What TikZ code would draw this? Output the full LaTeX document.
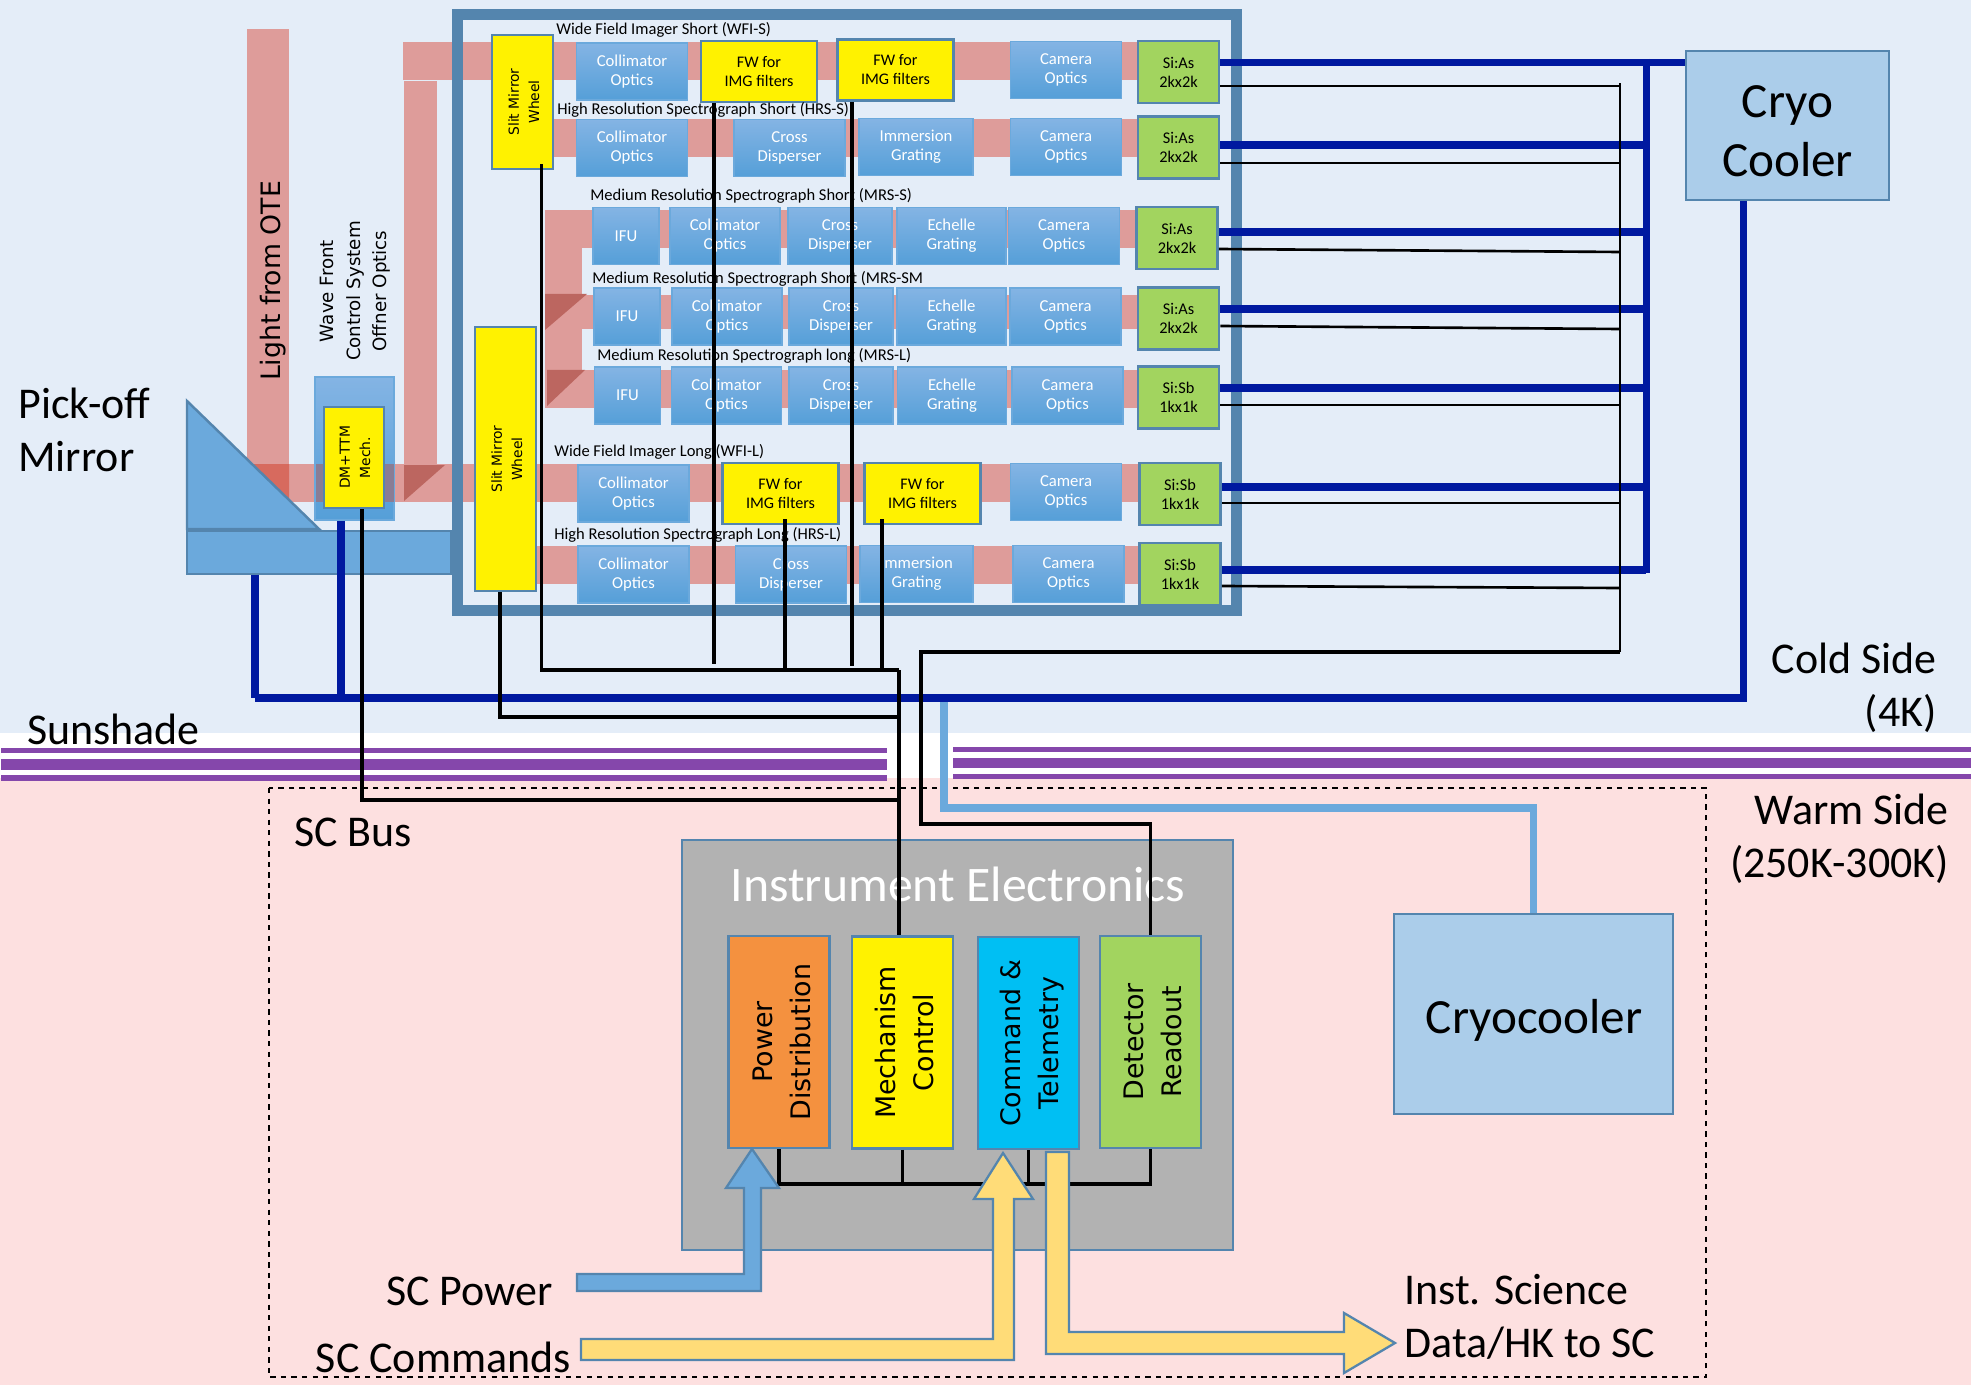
\documentclass[tikz,border=0pt]{standalone}
\usepackage{fontspec}
\setmainfont{Carlito}
\newfontfamily\widefont{DejaVu Sans}
\usetikzlibrary{positioning}
\definecolor{coldbg}{HTML}{E4EDF8}
\definecolor{warmbg}{HTML}{FDE0E0}
\definecolor{beamred}{HTML}{DE9C9A}
\definecolor{beamdark}{HTML}{BC6660}
\definecolor{beamhot}{HTML}{D76A5E}
\definecolor{beammix}{HTML}{8A7D95}
\definecolor{edgeblue}{HTML}{5485AE}
\definecolor{optictop}{HTML}{84B4E4}
\definecolor{opticbot}{HTML}{559FD8}
\definecolor{coldblue}{HTML}{0019A0}
\definecolor{lineblue}{HTML}{6BA9DC}
\definecolor{shadepurple}{HTML}{8547AB}
\definecolor{coolerblue}{HTML}{ABCDEA}
\definecolor{armyellow}{HTML}{FFDC78}
\definecolor{detgreen}{HTML}{A2D45F}
\definecolor{cmdcyan}{HTML}{00BFF3}
\definecolor{pwrorange}{HTML}{F4913F}
\definecolor{elecgray}{HTML}{B2B2B2}
\newcommand{\turned}[2][0cm]{\hspace*{#1}\rotatebox{90}{\begin{tabular}{@{}c@{}}#2\end{tabular}}}
\tikzset{
  box/.style={draw=edgeblue, inner sep=0pt, align=center},
  optic/.style={box, draw=lineblue, line width=1pt, top color=optictop, bottom color=opticbot, text=white, minimum width=2.22cm, minimum height=1.14cm, font=\fontsize{9.5}{10.8}\selectfont},
  ifu/.style={optic, minimum width=1.32cm},
  filterwheel/.style={box, fill=yellow, line width=1.6pt, minimum width=2.32cm, minimum height=1.22cm, font=\fontsize{9.2}{10.8}\selectfont},
  sensor/.style={box, fill=detgreen, line width=1.5pt, minimum width=1.62cm, minimum height=1.24cm, font=\fontsize{9.3}{10.8}\selectfont},
  slit/.style={box, fill=yellow, line width=1.6pt, font=\widefont\fontsize{7.9}{11.4}\selectfont},
  unit/.style={box, line width=1.6pt, minimum width=2.02cm, minimum height=4.24cm, font=\widefont\fontsize{15.3}{21.6}\selectfont},
  rowlabel/.style={anchor=west, inner sep=0pt, font=\fontsize{9.4}{10.8}\selectfont},
  biglabel/.style={inner sep=0pt, align=left, font=\fontsize{25}{30}\selectfont},
  coolertext/.style={inner sep=0pt, align=center, font=\fontsize{28}{33.5}\selectfont},
  beam/.style={fill=beamred},
  sensewire/.style={draw=black, line width=1.5pt},
  ctrlwire/.style={draw=black, line width=2pt},
  coldwire/.style={draw=coldblue, line width=4pt},
  blockarrow/.style={draw=edgeblue, line width=1.3pt, line join=miter}
}
\begin{document}
\begin{tikzpicture}[x=0.02cm, y=-0.02cm]
    \useasboundingbox (0,0) rectangle (1971,1385);
    % Cold and warm sides
    \fill[white] (0,0) rectangle (1971,1385);
    \fill[coldbg] (0,0) rectangle (1971,733);
    \fill[warmbg] (0,778) rectangle (1971,1385);
    \foreach \ya/\yb in {748/753, 759/770, 775/781} {
        \fill[shadepurple] (1,\ya) rectangle (887,\yb);
    }
    \foreach \ya/\yb in {747/752, 758/768, 774/779} {
        \fill[shadepurple] (953,\ya) rectangle (1971,\yb);
    }
    \draw[dashed, line width=0.8pt] (269,788) rectangle (1706,1377);

    % Light path
    \fill[beam] (247,29) rectangle (289,502);
    \fill[beam] (404,81) rectangle (437,464);
    \fill[beam] (545,211) rectangle (582,408);
    \fill[beam] (403,42) rectangle (1140,80);
    \fill[beam] (553,119) rectangle (1140,157);
    \fill[beam] (545,210) rectangle (1140,248);
    \fill[beam] (582,295) rectangle (1140,329);
    \fill[beam] (545,370) rectangle (1140,408);
    \fill[beam] (247,464) rectangle (1140,502);
    \fill[beam] (535,546) rectangle (1140,584);
    \fill[beamhot] (252,464) -- (289,464) -- (289,502) -- cycle;
    \fill[beamdark] (404,465) -- (445,465) -- (404,501) -- cycle;
    \fill[beamdark] (545,294) -- (587,294) -- (545,330) -- cycle;
    \fill[beamdark] (547,370) -- (585,370) -- (547,406) -- cycle;

    % Pick-off mirror and WFC optics
    \node (pickbar) at (319,552.5) [box, fill=lineblue, line width=1.4pt, minimum width=5.28cm, minimum height=0.86cm] {};
    \filldraw[fill=lineblue, draw=edgeblue, line width=1.4pt] (187,401) -- (187,529) -- (319,529) -- cycle;
    \node (wfc) at (354.5,448.5) [box, draw=lineblue, line width=1pt, top color=optictop, bottom color=opticbot, minimum width=1.58cm, minimum height=2.86cm] {};
    \fill[beammix] (315.5,464) rectangle (393.5,502);
    \node (dmttm) at (354,457.5) [slit, minimum width=1.2cm, minimum height=2.02cm] {\turned[0.08cm]{DM+TTM\\Mech.}};

    % Instrument frame
    \node (frame) at (847,312.5) [box, line width=6.2pt, minimum width=15.6cm, minimum height=11.94cm] {};

    % WFI-S
    \node (labA) at (556,30) [rowlabel] {Wide Field Imager Short (WFI-S)};
    \node (colA) at (632,71.5) [optic] {Collimator\\Optics};
    \node (fwA) at (759,71.5) [filterwheel] {FW for\\IMG filters};
    \node (fwB) at (895.5,70) [filterwheel] {FW for\\IMG filters};
    \node (camA) at (1066,70) [optic] {Camera\\Optics};
    \node (d1) at (1178.5,72) [sensor] {Si:As\\2kx2k};
    % HRS-S
    \node (labB) at (557,110) [rowlabel] {High Resolution Spectrograph Short (HRS-S)};
    \node (colB) at (632,148) [optic] {Collimator\\Optics};
    \node (crossB) at (789.5,148) [optic] {Cross\\Disperser};
    \node (immB) at (916,147) [optic, minimum width=2.28cm] {Immersion\\Grating};
    \node (camB) at (1066,147) [optic] {Camera\\Optics};
    \node (d2) at (1178.5,147.5) [sensor] {Si:As\\2kx2k};
    % MRS-S
    \node (labC) at (590,196) [rowlabel] {Medium Resolution Spectrograph Short (MRS-S)};
    \node (ifuC) at (626,236) [ifu] {IFU};
    \node (colC) at (725,236) [optic, minimum width=2.2cm] {Collimator\\Optics};
    \node (crossC) at (840,236) [optic, minimum width=2.08cm] {Cross\\Disperser};
    \node (echC) at (951.5,236) [optic, minimum width=2.18cm] {Echelle\\Grating};
    \node (camC) at (1064,236) [optic] {Camera\\Optics};
    \node (d3) at (1177,238) [sensor] {Si:As\\2kx2k};
    % MRS-SM
    \node (labD) at (592,279) [rowlabel] {Medium Resolution Spectrograph Short (MRS-SM};
    \node (ifuD) at (627,316.5) [ifu] {IFU};
    \node (colD) at (727,316.5) [optic, minimum width=2.2cm] {Collimator\\Optics};
    \node (crossD) at (841,316.5) [optic, minimum width=2.08cm] {Cross\\Disperser};
    \node (echD) at (951.5,316.5) [optic, minimum width=2.18cm] {Echelle\\Grating};
    \node (camD) at (1065.5,316.5) [optic] {Camera\\Optics};
    \node (d4) at (1178.5,318.5) [sensor] {Si:As\\2kx2k};
    % MRS-L
    \node (labE) at (597,356) [rowlabel] {Medium Resolution Spectrograph long (MRS-L)};
    \node (ifuE) at (627.5,395.5) [ifu] {IFU};
    \node (colE) at (726.5,395.5) [optic, minimum width=2.2cm] {Collimator\\Optics};
    \node (crossE) at (841,395.5) [optic, minimum width=2.08cm] {Cross\\Disperser};
    \node (echE) at (952,395.5) [optic, minimum width=2.18cm] {Echelle\\Grating};
    \node (camE) at (1067.5,395.5) [optic] {Camera\\Optics};
    \node (d5) at (1178.5,397.5) [sensor] {Si:Sb\\1kx1k};
    % WFI-L
    \node (labF) at (554,452) [rowlabel] {Wide Field Imager Long (WFI-L)};
    \node (colF) at (633.5,493.5) [optic] {Collimator\\Optics};
    \node (fwC) at (780.5,493.5) [filterwheel] {FW for\\IMG filters};
    \node (fwD) at (922.5,493.5) [filterwheel] {FW for\\IMG filters};
    \node (camF) at (1066,492) [optic] {Camera\\Optics};
    \node (d6) at (1180,494) [sensor] {Si:Sb\\1kx1k};
    % HRS-L
    \node (labG) at (554,535) [rowlabel] {High Resolution Spectrograph Long (HRS-L)};
    \node (colG) at (633.5,574.5) [optic] {Collimator\\Optics};
    \node (crossG) at (791,574.5) [optic] {Cross\\Disperser};
    \node (immG) at (916.5,574) [optic, minimum width=2.26cm] {Immersion\\Grating};
    \node (camG) at (1068.5,574) [optic] {Camera\\Optics};
    \node (d7) at (1180,574) [sensor] {Si:Sb\\1kx1k};

    % Slit wheels
    \node (wheelA) at (522.5,102) [slit, minimum width=1.22cm, minimum height=2.68cm] {\turned[0.1cm]{Slit Mirror\\Wheel}};
    \node (wheelB) at (505.5,459) [slit, minimum width=1.22cm, minimum height=5.28cm] {\turned[0.1cm]{Slit Mirror\\Wheel}};

    % Coolers
    \node (cryo) at (1787.5,125.5) [box, fill=coolerblue, line width=1.4pt, minimum width=4.06cm, minimum height=2.98cm] {};
    \node (cryotext) at (1787.5,131.5) [coolertext] {Cryo\\Cooler};
    \node (cryoc) at (1533.5,1014) [box, fill=coolerblue, line width=1.4pt, minimum width=5.58cm, minimum height=4cm] {};
    \node (cryoctext) at (1534,1020) [coolertext] {Cryocooler};

    % Electronics
    \node (iebox) at (957.5,1045) [box, fill=elecgray, line width=1.4pt, minimum width=11.02cm, minimum height=8.2cm] {};
    \node (ietitle) at (958,884) [inner sep=0pt, text=white, font=\fontsize{28.3}{30}\selectfont] {Instrument Electronics};
    \node (power) at (779,1042) [unit, fill=pwrorange] {\turned[0.2cm]{Power\\Distribution}};
    \node (mech) at (902.5,1042.5) [unit, fill=yellow] {\turned[0.16cm]{Mechanism\\Control}};
    \node (cmd) at (1028.5,1043) [unit, fill=cmdcyan] {\turned[0.12cm]{Command \&\\Telemetry}};
    \node (readout) at (1150.5,1042) [unit, fill=detgreen] {\turned[0.18cm]{Detector\\Readout}};

    % Cooling lines
    \coordinate (jCool) at (944,698);
    \draw[draw=lineblue, line width=4pt] (jCool) |- (cryoc.north |- 0,808) -- (cryoc.north);
    \coordinate (jStrap) at (255,698);
    \draw[coldwire] (cryo.south -| 1743,0) |- (jStrap);
    \draw[coldwire] (pickbar.south -| jStrap) -- (jStrap);
    \coordinate (jWfc) at (341,698);
    \draw[coldwire] (wfc.south -| jWfc) -- (jWfc);
    \draw[coldwire] (d1.east |- 0,62.5) -- (cryo.west |- 0,62.5);
    \coordinate (jBusTop) at (1646,59);
    \coordinate (jBusEnd) at (1646,573);
    \draw[coldwire] (jBusTop) -- (jBusEnd);
    \foreach \r/\y in {2/145, 3/232, 4/309, 5/388, 6/487, 7/570} {
        \coordinate (cold\r) at (1646,\y);
        \draw[coldwire] (d\r.east |- 0,\y) -- (cold\r);
    }

    % Mechanism wires
    \coordinate (jMech) at (899,670);
    \coordinate (jLow) at (899,717);
    \coordinate (jDm) at (899,800);
    \coordinate (endA) at (714,664);
    \coordinate (endB) at (852,666);
    \draw[ctrlwire] ([xshift=0.38cm, yshift=0.12cm]wheelA.south) |- (jMech);
    \draw[ctrlwire] (jMech) -- (mech.north -| jMech);
    \draw[ctrlwire] ([xshift=-0.11cm]wheelB.south) |- (jLow);
    \draw[ctrlwire] ([xshift=0.16cm]dmttm.south) |- (jDm);
    \draw[ctrlwire] (fwA.south -| endA) -- (endA);
    \draw[ctrlwire] (fwB.south -| endB) -- (endB);
    \draw[ctrlwire] ([xshift=0.09cm, yshift=0.12cm]fwC.south) -- ([xshift=0.09cm]fwC.south |- jMech);
    \draw[ctrlwire] ([xshift=-0.81cm, yshift=0.12cm]fwD.south) -- ([xshift=-0.81cm]fwD.south |- jMech);

    % Detector wires
    \coordinate (jRead) at (921,824);
    \coordinate (jHarness) at (1620,652);
    \coordinate (jHarnessTop) at (1620,83);
    \draw[ctrlwire] (readout.north) |- (jRead) |- (jHarness);
    \draw[sensewire] (jHarness) -- (jHarnessTop);
    \foreach \r/\ya/\yb in {1/86/86, 2/163/163, 3/249/252, 4/326/329, 5/405/405, 6/503/503, 7/586/588} {
        \coordinate (read\r) at (1620,\yb);
        \draw[sensewire] (d\r.east |- 0,\ya) -- (read\r);
    }

    % Electronics backplane
    \coordinate (jPlane) at (1150.5,1184);
    \draw[ctrlwire] (power.south) |- (jPlane) -- (readout.south);
    \draw[sensewire] (mech.south) -- (mech.south |- jPlane);
    \draw[sensewire] (cmd.south) -- (cmd.south |- jPlane);

    % SC interfaces
    \filldraw[blockarrow, fill=lineblue] (577,1274) -- (744,1274) -- (744,1188) -- (726,1188) -- (752,1149) -- (779,1188) -- (761,1188) -- (761,1291) -- (577,1291) -- cycle;
    \filldraw[blockarrow, fill=armyellow] (581,1339) -- (993,1339) -- (993,1199) -- (974,1199) -- (1003,1153) -- (1033,1199) -- (1014,1199) -- (1014,1360) -- (581,1360) -- cycle;
    \filldraw[blockarrow, fill=armyellow] (1046,1152) -- (1069,1152) -- (1069,1332) -- (1344,1332) -- (1344,1313) -- (1395,1343) -- (1344,1373) -- (1344,1354) -- (1046,1354) -- cycle;

    % Labels
    \node (otelabel) at (273.5,281) [rotate=90, inner sep=0pt, font=\widefont\fontsize{15.2}{18}\selectfont] {Light from OTE};
    \node (wfclabel) at (355.5,291) [rotate=90, inner sep=0pt, align=center, font=\widefont\fontsize{10.4}{15}\selectfont] {Wave Front\\Control System\\Offner Optics};
    \node (picklabel) at (18,430) [biglabel, anchor=west] {Pick-off\\Mirror};
    \node (shadelabel) at (27,729) [biglabel, anchor=west] {Sunshade};
    \node (buslabel) at (294,832) [biglabel, anchor=west] {SC Bus};
    \node (coldlabel) at (1937,688) [biglabel, anchor=east, align=right] {Cold Side\\(4K)};
    \node (warmlabel) at (1949,839) [biglabel, anchor=east, align=right] {Warm Side\\(250K-300K)};
    \node (powerlabel) at (553,1291) [biglabel, anchor=east] {SC Power};
    \node (cmdlabel) at (571,1357) [biglabel, anchor=east] {SC Commands};
    \node (datalabel) at (1404,1317) [biglabel, anchor=west] {Inst. Science\\Data/HK to SC};
\end{tikzpicture}
\end{document}
